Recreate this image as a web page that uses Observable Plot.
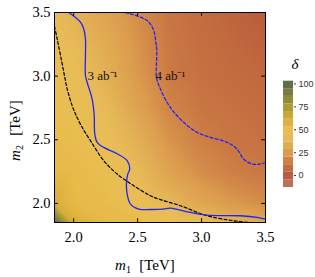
<!DOCTYPE html>
<html>
<head>
<meta charset="utf-8">
<script src="https://cdn.jsdelivr.net/npm/d3@7"></script>
<script src="https://cdn.jsdelivr.net/npm/@observablehq/plot@0.6"></script>
<style>
  html, body { margin: 0; padding: 0; background: #fff; }
  #wrap { position: relative; width: 315px; height: 277px; overflow: hidden; }
  #legend { position: absolute; left: 283px; top: 50px; }
  #main { position: absolute; left: 0; top: 0; }
</style>
</head>
<body>
<div id="wrap"><div id="main"></div><div id="legend"></div></div>
<script>
// ---- data ----
const m1Grid = [1.85, 2.0, 2.25, 2.5, 2.75, 3.0, 3.25, 3.5];
const m2Grid = [3.5, 3.25, 3.0, 2.75, 2.5, 2.25, 2.0, 1.85];
const deltaRows = [
  [40, 36, 28, 20, 12, 8, 4, 0],
  [43, 40, 32, 22, 13, 9, 6, 3],
  [46, 44, 35, 24, 14, 10, 8, 6],
  [48, 47, 40, 28, 17, 12, 10, 8],
  [50, 49, 45, 34, 22, 15, 12, 10],
  [52, 51, 48, 40, 28, 20, 15, 13],
  [60, 52, 50, 46, 38, 30, 24, 20],
  [100, 60, 52, 50, 46, 42, 36, 30]
];

const lumi3_m1 = [1.962, 2.053, 2.079, 2.092, 2.092, 2.092, 2.105, 2.144, 2.160, 2.165, 2.183, 2.235, 2.34, 2.418, 2.438, 2.423, 2.413, 2.418, 2.444, 2.509, 2.6, 2.70, 2.756, 2.913, 3.043, 3.303, 3.434, 3.5];
const lumi3_m2 = [3.5, 3.424, 3.37, 3.293, 3.162, 3.004, 2.952, 2.822, 2.70, 2.546, 2.48, 2.44, 2.39, 2.336, 2.27, 2.23, 2.165, 2.074, 1.995, 1.956, 1.952, 1.955, 1.963, 1.929, 1.908, 1.903, 1.89, 1.876];

const lumi4_m1 = [2.405, 2.574, 2.626, 2.642, 2.650, 2.647, 2.647, 2.678, 2.73, 2.786, 2.86, 2.965, 3.069, 3.2, 3.277, 3.329, 3.394, 3.46, 3.5];
const lumi4_m2 = [3.5, 3.437, 3.358, 3.27, 3.2, 3.083, 2.99, 2.9, 2.795, 2.715, 2.637, 2.558, 2.519, 2.48, 2.427, 2.349, 2.31, 2.31, 2.322];

const boundary_m1 = [1.85, 1.871, 1.897, 1.923, 1.949, 1.988, 2.014, 2.066, 2.131, 2.235, 2.34, 2.47, 2.6, 2.678, 2.834, 3.043, 3.25, 3.38];
const boundary_m2 = [3.39, 3.293, 3.162, 3.03, 2.9, 2.768, 2.703, 2.598, 2.493, 2.336, 2.231, 2.139, 2.06, 2.03, 1.982, 1.903, 1.864, 1.85];

const axisTicks = [2.0, 2.5, 3.0, 3.5];
const legendTicks = [0, 25, 50, 75, 100];
const labels = [
  {m1: 2.108, m2: 3.0, text: "3 ab⁻¹"},
  {m1: 2.639, m2: 3.0, text: "4 ab⁻¹"}
];

const colorStops = [-13, 0, 12, 25, 37, 42, 48, 55, 65, 75, 88, 100];
const colorRange = ["#c27868", "#b95c3a", "#c97543", "#dc9d4e", "#e5b556", "#e8bc57", "#e9be50", "#e4b541", "#c8a93a", "#a89a33", "#7d7f3c", "#5b6c4a"];

// ---- tables built from arrays ----
const grid = m2Grid.flatMap((m2, i) => m1Grid.map((m1, j) => ({m1, m2, delta: deltaRows[i][j]})));
const zip = (a, b) => a.map((v, i) => ({m1: v, m2: b[i]}));
const lumi3 = zip(lumi3_m1, lumi3_m2);
const lumi4 = zip(lumi4_m1, lumi4_m2);
const boundary = zip(boundary_m1, boundary_m2);

const dom = [1.85, 3.5];
const tl = 0.03;
const color = {type: "linear", domain: colorStops, range: colorRange};

const chart = Plot.plot({
  width: 315, height: 277,
  marginLeft: 54, marginRight: 50, marginTop: 12, marginBottom: 55,
  style: {fontFamily: "Liberation Serif", fontSize: "14.5px", color: "#000", background: "transparent"},
  x: {domain: dom, label: null},
  y: {domain: dom, label: null},
  color,
  marks: [
    Plot.raster(grid, {x: "m1", y: "m2", fill: "delta", interpolate: "barycentric", x1: dom[0], x2: dom[1], y1: dom[0], y2: dom[1]}),
    Plot.line(boundary, {x: "m1", y: "m2", stroke: "#000", strokeWidth: 1.2, strokeDasharray: "3,2.2", curve: "catmull-rom", clip: true}),
    Plot.line(lumi3, {x: "m1", y: "m2", stroke: "#1f24ff", strokeWidth: 1.3, curve: "catmull-rom", clip: true}),
    Plot.line(lumi4, {x: "m1", y: "m2", stroke: "#1f24ff", strokeWidth: 1.3, strokeDasharray: "3,2.2", curve: "catmull-rom", clip: true}),
    Plot.text(labels, {x: "m1", y: "m2", text: "text", textAnchor: "start", fontSize: 13, fontFamily: "Liberation Serif", fill: "#111"}),
    Plot.ruleX(axisTicks, {x: d => d, y1: dom[0], y2: dom[0] + tl, stroke: "#000"}),
    Plot.ruleX(axisTicks, {x: d => d, y1: dom[1] - tl, y2: dom[1], stroke: "#000"}),
    Plot.ruleY(axisTicks, {y: d => d, x1: dom[0], x2: dom[0] + tl, stroke: "#000"}),
    Plot.ruleY(axisTicks, {y: d => d, x1: dom[1] - tl, x2: dom[1], stroke: "#000"}),
    Plot.axisX({ticks: axisTicks, tickFormat: ".1f", tickSize: 0, tickPadding: 9, label: null}),
    Plot.axisY({ticks: axisTicks, tickFormat: ".1f", tickSize: 0, tickPadding: 4, label: null}),
    Plot.frame({stroke: "#000", strokeWidth: 1})
  ]
});
document.getElementById("main").appendChild(chart);

// axis titles with italic m and subscripts
const svg = d3.select(chart);
function axisTitle(transform, sub, bracketX) {
  const t = svg.append("text")
    .attr("transform", transform)
    .attr("font-family", "Liberation Serif")
    .attr("font-size", 15)
    .attr("fill", "#000");
  t.append("tspan").attr("x", 0).attr("font-style", "italic").text("m");
  t.append("tspan").attr("font-size", 10).attr("dy", 3).text(sub);
  t.append("tspan").attr("x", bracketX).attr("dy", -3).text("[TeV]");
}
axisTitle("translate(123,270)", "1", 34);
axisTitle("translate(20,153) rotate(-90)", "2", 35);

// colour bar legend
const nb = 14;
const bands = d3.range(nb).map(i => {
  const lo = -13 + i * 116 / nb, hi = -13 + (i + 1) * 116 / nb;
  return {lo, hi, mid: (lo + hi) / 2};
});
const legend = Plot.plot({
  width: 32, height: 145,
  marginTop: 30.7, marginBottom: 8, marginLeft: 0, marginRight: 22,
  style: {fontFamily: "Liberation Sans", fontSize: "9px", color: "#333", background: "transparent"},
  x: {domain: [0, 1], axis: null},
  y: {domain: [-13, 103], label: null},
  color,
  marks: [
    Plot.rect(bands, {x1: 0, x2: 1, y1: "lo", y2: "hi", fill: "mid"}),
    Plot.axisY({anchor: "right", ticks: legendTicks, tickSize: 2, tickPadding: 3, label: null, fill: "#333"})
  ]
});
document.getElementById("legend").appendChild(legend);
d3.select(legend).append("text")
  .attr("x", 12).attr("y", 19)
  .attr("text-anchor", "middle")
  .attr("font-family", "Liberation Serif")
  .attr("font-style", "italic")
  .attr("font-size", 15)
  .attr("fill", "#000")
  .text("δ");
</script>
</body>
</html>
